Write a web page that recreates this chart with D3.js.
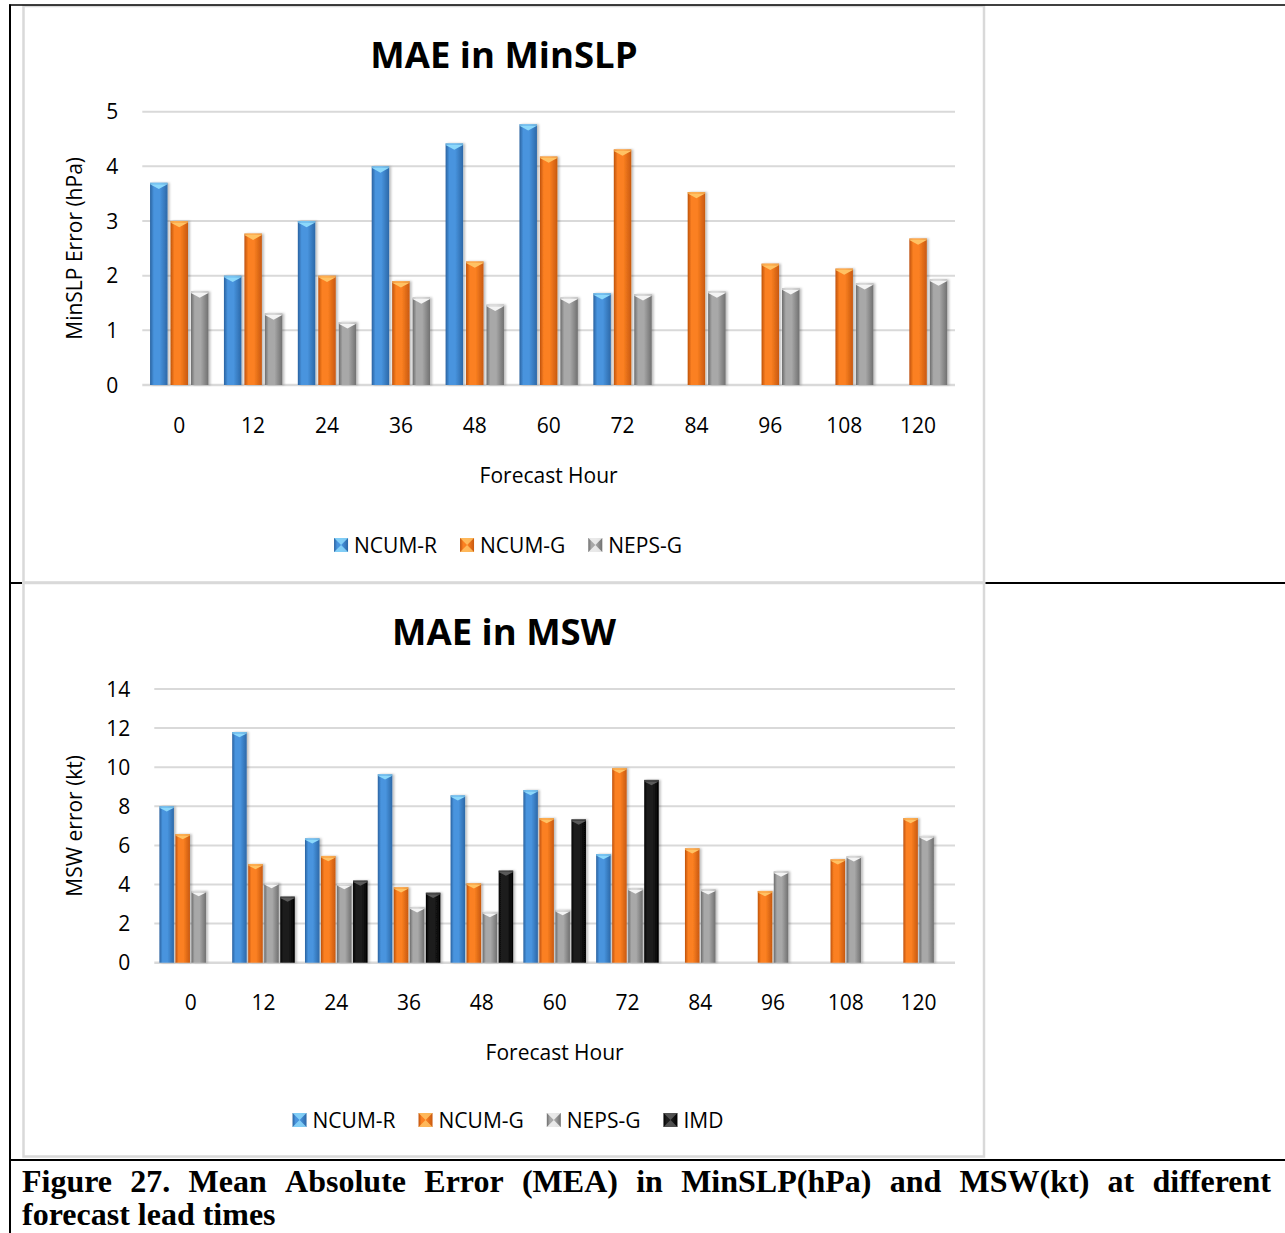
<!DOCTYPE html>
<html>
<head>
<meta charset="utf-8">
<script src="https://cdn.jsdelivr.net/npm/d3@7"></script>
<style>
  body { margin: 0; background: #fff; }
  svg text { font-family: "Open Sans", sans-serif; fill: #000; }
  .caption { font-family: "Liberation Serif", "Times New Roman", serif; font-weight: bold; font-size: 32px; }
</style>
</head>
<body>
<svg id="fig" width="1285" height="1233"></svg>
<script>
// forecast hours (x categories)
var hours = [0, 12, 24, 36, 48, 60, 72, 84, 96, 108, 120];

// MAE in MinSLP (hPa)
var slpSeries = ["NCUM-R", "NCUM-G", "NEPS-G"];
var slpNcumR = [3.7, 2.0, 3.0, 4.0, 4.42, 4.77, 1.68, null, null, null, null];
var slpNcumG = [3.0, 2.77, 2.0, 1.9, 2.26, 4.18, 4.31, 3.53, 2.22, 2.13, 2.68];
var slpNepsG = [1.71, 1.31, 1.15, 1.6, 1.47, 1.6, 1.66, 1.71, 1.77, 1.86, 1.93];
var slpTicks = [0, 1, 2, 3, 4, 5];

// MAE in MSW (kt)
var mswSeries = ["NCUM-R", "NCUM-G", "NEPS-G", "IMD"];
var mswNcumR = [8.0, 11.8, 6.36, 9.64, 8.56, 8.83, 5.56, null, null, null, null];
var mswNcumG = [6.58, 5.05, 5.46, 3.86, 4.06, 7.4, 9.96, 5.85, 3.67, 5.29, 7.4];
var mswNepsG = [3.67, 4.08, 4.03, 2.83, 2.59, 2.7, 3.8, 3.75, 4.67, 5.44, 6.48];
var mswImd = [null, 3.38, 4.2, 3.58, 4.71, 7.33, 9.35, null, null, null, null];
var mswTicks = [0, 2, 4, 6, 8, 10, 12, 14];

var caption1 = "Figure 27. Mean Absolute Error (MEA) in MinSLP(hPa) and MSW(kt) at different";
var caption2 = "forecast lead times";

var palette = {
  "NCUM-R": { l: "#2a62a0", m: "#4894de", r: "#2c68a8", tri: "#8cd8fb" },
  "NCUM-G": { l: "#bf520c", m: "#fb8021", r: "#c8590f", tri: "#ffc264" },
  "NEPS-G": { l: "#6c6c6c", m: "#a8a8a8", r: "#707070", tri: "#f4f4f4" },
  "IMD":    { l: "#000000", m: "#1e1e1e", r: "#000000", tri: "#5a5a5a" }
};

var svg = d3.select("#fig");
var defs = svg.append("defs");

Object.keys(palette).forEach(function(k, i) {
  var c = palette[k];
  var gr = defs.append("linearGradient").attr("id", "grad" + i)
    .attr("x1", "0").attr("x2", "1").attr("y1", "0").attr("y2", "0");
  gr.append("stop").attr("offset", "0").attr("stop-color", c.l);
  gr.append("stop").attr("offset", "0.22").attr("stop-color", c.m);
  gr.append("stop").attr("offset", "0.55").attr("stop-color", c.m);
  gr.append("stop").attr("offset", "1").attr("stop-color", c.r);
  c.grad = "url(#grad" + i + ")";
});

var shadow = defs.append("filter").attr("id", "shadow")
  .attr("x", "-20%").attr("y", "-5%").attr("width", "150%").attr("height", "110%");
shadow.append("feDropShadow").attr("dx", 2).attr("dy", 0).attr("stdDeviation", 1.2)
  .attr("flood-color", "#000").attr("flood-opacity", 0.25);

// frame lines of the page table
svg.append("rect").attr("x", 23.5).attr("y", 6).attr("width", 960.5).attr("height", 576.5)
  .attr("fill", "none").attr("stroke", "#d9d9d9").attr("stroke-width", 2.5);
svg.append("rect").attr("x", 23.5).attr("y", 583).attr("width", 960.5).attr("height", 573.5)
  .attr("fill", "none").attr("stroke", "#d9d9d9").attr("stroke-width", 2.5);

var black = svg.append("g").attr("stroke", "#000");
black.append("line").attr("x1", 9).attr("x2", 1285).attr("y1", 5).attr("y2", 5).attr("stroke-width", 1.5);
black.append("line").attr("x1", 10).attr("x2", 10).attr("y1", 4.5).attr("y2", 1233).attr("stroke-width", 2);
black.append("line").attr("x1", 9).attr("x2", 22).attr("y1", 583).attr("y2", 583).attr("stroke-width", 2);
black.append("line").attr("x1", 985.5).attr("x2", 1285).attr("y1", 583).attr("y2", 583).attr("stroke-width", 2);
black.append("line").attr("x1", 9).attr("x2", 1285).attr("y1", 1160).attr("y2", 1160).attr("stroke-width", 2);

var fs = "21px";

function drawChart(cfg) {
  var g = svg.append("g");

  var x = d3.scaleBand().domain(hours).range([cfg.x0, cfg.x1])
    .paddingInner(cfg.groupPad).paddingOuter(cfg.groupPad / 2);
  var xs = d3.scaleBand().domain(cfg.series).range([0, x.bandwidth()]).paddingInner(cfg.barPad);
  var y = d3.scaleLinear().domain([0, d3.max(cfg.ticks)]).range([cfg.y0, cfg.y1]);

  // title
  g.append("text").attr("x", 504).attr("y", cfg.titleY)
    .attr("text-anchor", "middle").style("font-size", "36.5px").style("font-weight", "bold")
    .text(cfg.title);

  // gridlines
  g.append("g").selectAll("line").data(cfg.ticks).join("line")
    .attr("x1", cfg.x0).attr("x2", cfg.x1)
    .attr("y1", function(d) { return y(d); }).attr("y2", function(d) { return y(d); })
    .attr("stroke", "#d9d9d9").attr("stroke-width", function(d) { return d == 0 ? 2.5 : 2; });

  // y tick labels
  g.append("g").selectAll("text").data(cfg.ticks).join("text")
    .attr("x", cfg.x0 - 24).attr("y", function(d) { return y(d); })
    .attr("dy", "0.36em").attr("text-anchor", "end").style("font-size", fs)
    .text(function(d) { return d; });

  // x tick labels
  g.append("g").selectAll("text").data(hours).join("text")
    .attr("x", function(d) { return x(d) + x.bandwidth() / 2; })
    .attr("y", cfg.y0 + 47.5).attr("text-anchor", "middle").style("font-size", fs)
    .text(function(d) { return d; });

  // axis titles
  g.append("text").attr("x", (cfg.x0 + cfg.x1) / 2).attr("y", cfg.y0 + 97.5)
    .attr("text-anchor", "middle").style("font-size", fs).text("Forecast Hour");
  g.append("text")
    .attr("transform", "translate(81.5," + ((cfg.y0 + cfg.y1) / 2) + ") rotate(-90)")
    .attr("text-anchor", "middle").style("font-size", fs).text(cfg.yTitle);

  // bars
  var bars = [];
  cfg.values.forEach(function(arr, s) {
    arr.forEach(function(v, i) {
      if (v != null) bars.push({ s: cfg.series[s], h: hours[i], v: v });
    });
  });

  var w = xs.bandwidth();
  var bar = g.append("g").selectAll("g").data(bars).join("g")
    .attr("transform", function(d) { return "translate(" + (x(d.h) + xs(d.s)) + "," + y(d.v) + ")"; });
  bar.append("rect")
    .attr("width", w).attr("height", function(d) { return y(0) - y(d.v); })
    .attr("fill", function(d) { return palette[d.s].grad; })
    .attr("filter", "url(#shadow)");
  bar.append("rect").attr("width", w).attr("height", 1.5)
    .attr("fill", function(d) { return palette[d.s].tri; }).attr("opacity", 0.7);
  bar.append("path")
    .attr("d", "M0,1.5 L" + w + ",1.5 L" + (w / 2) + "," + (w * 0.36) + " Z")
    .attr("fill", function(d) { return palette[d.s].tri; });

  // legend
  var leg = g.append("g").attr("transform", "translate(0," + cfg.legendY + ")");
  var items = leg.selectAll("g").data(cfg.series).join("g");
  items.append("rect").attr("y", -7).attr("width", 14).attr("height", 14)
    .attr("fill", function(d) { return palette[d].grad; });
  items.append("path").attr("d", "M0,-7 L14,-7 L7,0 Z M0,7 L14,7 L7,0 Z")
    .attr("fill", function(d) { return palette[d].tri; }).attr("opacity", 0.85);
  items.append("text").attr("x", 20).attr("dy", "0.36em").style("font-size", fs)
    .text(function(d) { return d; });

  var widths = [];
  items.each(function() { widths.push(this.getBBox().width); });
  var total = d3.sum(widths) + 23 * (widths.length - 1);
  var pos = 508 - total / 2;
  items.attr("transform", function(d, i) {
    var t = "translate(" + pos + ",0)";
    pos += widths[i] + 23;
    return t;
  });
}

drawChart({
  title: "MAE in MinSLP", titleY: 68, yTitle: "MinSLP Error (hPa)",
  x0: 142.3, x1: 955, y0: 385, y1: 111.7,
  groupPad: 0.21, barPad: 0.146,
  ticks: slpTicks, series: slpSeries, values: [slpNcumR, slpNcumG, slpNepsG],
  legendY: 545
});

drawChart({
  title: "MAE in MSW", titleY: 645, yTitle: "MSW error (kt)",
  x0: 154.3, x1: 955, y0: 962.7, y1: 689,
  groupPad: 0.14, barPad: 0.094,
  ticks: mswTicks, series: mswSeries, values: [mswNcumR, mswNcumG, mswNepsG, mswImd],
  legendY: 1120
});

// caption, first line justified
var cap = svg.append("g").attr("class", "caption");
var words = caption1.split(" ");
var wt = cap.selectAll("text.w").data(words).join("text").attr("class", "caption w")
  .attr("y", 1192).text(function(d) { return d; });
var ww = [];
wt.each(function() { ww.push(this.getComputedTextLength()); });
var gap = (1271 - 22 - d3.sum(ww)) / (words.length - 1);
var cx = 22;
wt.attr("x", function(d, i) { var p = cx; cx += ww[i] + gap; return p; });
cap.append("text").attr("class", "caption").attr("x", 22).attr("y", 1225).text(caption2);
</script>
</body>
</html>
